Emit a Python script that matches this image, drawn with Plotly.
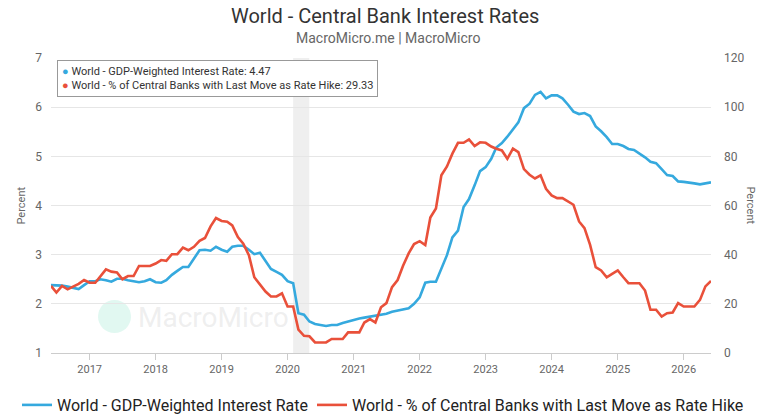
import pandas as pd
import plotly.graph_objects as go

dates = pd.date_range("2016-06-01", periods=121, freq="MS")

gdp_weighted_rate = [
    2.38, 2.38, 2.37, 2.35, 2.32, 2.30, 2.38, 2.46, 2.46, 2.50, 2.48, 2.45, 2.51, 2.51, 2.48, 2.46,
    2.44, 2.46, 2.50, 2.44, 2.43, 2.48, 2.59, 2.67, 2.75, 2.75, 2.92, 3.09, 3.10, 3.08, 3.16, 3.10,
    3.06, 3.16, 3.18, 3.18, 3.10, 3.01, 3.04, 2.87, 2.71, 2.65, 2.59, 2.46, 2.42, 1.81,
    1.78, 1.64, 1.59, 1.57, 1.55, 1.57, 1.57, 1.61, 1.64, 1.68, 1.70, 1.72, 1.74, 1.75, 1.78, 1.80,
    1.84, 1.86, 1.89, 1.91, 2.00, 2.13, 2.43, 2.45, 2.45, 2.72, 2.99, 3.35, 3.49, 3.97, 4.13, 4.41,
    4.70, 4.78, 4.95, 5.18,
    5.27, 5.40, 5.54, 5.69, 5.98, 6.07, 6.25, 6.31, 6.18, 6.24, 6.24, 6.18, 6.05, 5.91, 5.86, 5.88,
    5.82, 5.61, 5.51, 5.39, 5.25, 5.25, 5.21, 5.15, 5.13, 5.06, 4.98, 4.89, 4.86, 4.74, 4.62, 4.60,
    4.49, 4.48, 4.47, 4.45, 4.43, 4.45, 4.47,
]

pct_last_move_hike = [
    27.3, 24.6, 27.3, 25.9, 27.0, 28.1, 29.7, 28.6, 28.6, 31.3, 34.0, 33.1, 32.8, 30.0, 31.3, 31.3,
    35.4, 35.4, 35.4, 36.4, 37.8, 37.5, 40.2, 40.2, 42.9, 41.8, 43.2, 45.6, 46.8, 51.5, 54.9, 53.7,
    53.4, 51.9, 47.2, 44.5, 39.8, 30.8, 27.7, 25.0, 23.0, 23.0, 24.3, 18.9, 18.9, 9.5,
    7.0, 6.8, 4.3, 4.3, 4.3, 5.7, 5.7, 5.7, 8.4, 8.4, 8.4, 12.4, 13.8, 12.4, 18.6, 20.3,
    26.8, 29.7, 35.5, 40.5, 44.3, 45.5, 43.9, 55.1, 58.8, 72.3, 75.9, 81.1, 85.5, 85.5, 86.9, 84.2,
    85.7, 85.5, 84.0, 83.1,
    82.4, 79.0, 83.1, 81.7, 74.8, 72.5, 71.0, 72.3, 66.8, 64.1, 63.0, 63.0, 61.6, 60.3, 53.5, 50.8,
    44.0, 34.9, 33.6, 30.8, 32.2, 33.6, 30.8, 28.4, 28.4, 28.4, 25.4, 17.6, 17.6, 14.8, 16.2, 16.5,
    20.3, 18.9, 18.9, 18.9, 21.6, 27.1, 29.33,
]

name_blue = "World - GDP-Weighted Interest Rate"
name_red = "World - % of Central Banks with Last Move as Rate Hike"
title_text = "World - Central Bank Interest Rates"
subtitle_text = "MacroMicro.me | MacroMicro"
axis_title = "Percent"
recession = ("2020-02-01", "2020-04-30")

BLUE = "#35a9de"
RED = "#e9503a"
FONT = "Roboto"

W, H = 770, 420
L, R, T, B = 51, 59, 58, 67
PW, PH = W - L - R, H - T - B


def px_x(px):
    return (px - L) / PW


def px_y(py):
    return (H - B - py) / PH


fig = go.Figure()
fig.add_trace(go.Scatter(x=dates, y=gdp_weighted_rate, name=name_blue, mode="lines",
                         line=dict(color=BLUE, width=2.6), yaxis="y", legend="legend"))
fig.add_trace(go.Scatter(x=dates, y=pct_last_move_hike, name=name_red, mode="lines",
                         line=dict(color=RED, width=2.6), yaxis="y2", legend="legend2"))

fig.add_vrect(x0=recession[0], x1=recession[1], fillcolor="#efefef", opacity=1,
              line_width=0, layer="below")

# watermark
fig.add_shape(type="circle", xref="paper", yref="paper",
              x0=px_x(98), x1=px_x(131), y0=px_y(333), y1=px_y(300),
              fillcolor="rgba(170,235,215,0.35)", line_width=0, layer="below")
fig.add_annotation(text="MacroMicro", xref="paper", yref="paper", x=px_x(136), y=px_y(317),
                   xanchor="left", yanchor="middle", showarrow=False,
                   font=dict(family=FONT, size=28, color="rgba(200,200,200,0.3)"))

# tooltip-like box
tip = (f"<span style='color:{BLUE}'>●</span> {name_blue}: {gdp_weighted_rate[-1]:.2f}<br>"
       f"<span style='color:{RED}'>●</span> {name_red}: {pct_last_move_hike[-1]:.2f}")
fig.add_annotation(text=tip, xref="paper", yref="paper", x=px_x(57), y=px_y(60),
                   xanchor="left", yanchor="top", align="left", showarrow=False,
                   bgcolor="white", bordercolor="#999", borderwidth=1, borderpad=4,
                   font=dict(family=FONT, size=11, color="#333"))

# title & subtitle
fig.add_annotation(text=title_text, xref="paper", yref="paper", x=px_x(385), y=px_y(16),
                   xanchor="center", yanchor="middle", showarrow=False,
                   font=dict(family=FONT, size=20, color="#333"))
fig.add_annotation(text=subtitle_text, xref="paper", yref="paper", x=px_x(388), y=px_y(38),
                   xanchor="center", yanchor="middle", showarrow=False,
                   font=dict(family=FONT, size=14, color="#666"))

# axis titles
fig.add_annotation(text=axis_title, xref="paper", yref="paper", x=px_x(21), y=0.5,
                   xanchor="center", yanchor="middle", textangle=-90, showarrow=False,
                   font=dict(family=FONT, size=11, color="#666"))
fig.add_annotation(text=axis_title, xref="paper", yref="paper", x=px_x(750), y=0.5,
                   xanchor="center", yanchor="middle", textangle=90, showarrow=False,
                   font=dict(family=FONT, size=11, color="#666"))

legend_common = dict(orientation="h", xref="container", yref="container",
                     xanchor="left", y=15 / H, yanchor="middle",
                     font=dict(family=FONT, size=16, color="#222"), itemwidth=30,
                     bgcolor="rgba(0,0,0,0)")

fig.update_layout(
    width=W, height=H,
    margin=dict(l=L, r=R, t=T, b=B, autoexpand=False),
    paper_bgcolor="white", plot_bgcolor="white",
    font=dict(family=FONT, color="#666"),
    showlegend=True,
    legend=dict(x=17 / W, **legend_common),
    legend2=dict(x=312 / W, **legend_common),
    hovermode=False,
    xaxis=dict(
        range=[dates[0], dates[-1]], tick0="2017-01-01", dtick="M12", tickformat="%Y",
        showgrid=False, showline=True, linecolor="#ccc", linewidth=1,
        ticks="outside", ticklen=6, tickcolor="#ccc",
        tickfont=dict(family=FONT, size=11, color="#666")),
    yaxis=dict(
        range=[1, 7], dtick=1, showgrid=True, gridcolor="#e6e6e6", zeroline=False,
        tickfont=dict(family=FONT, size=12, color="#666"), ticks="", ticklabelstandoff=8),
    yaxis2=dict(
        range=[0, 120], dtick=20, overlaying="y", side="right", showgrid=False, zeroline=False,
        tickfont=dict(family=FONT, size=12, color="#666"), ticklabelstandoff=12),
)

fig.write_html("out.html")
